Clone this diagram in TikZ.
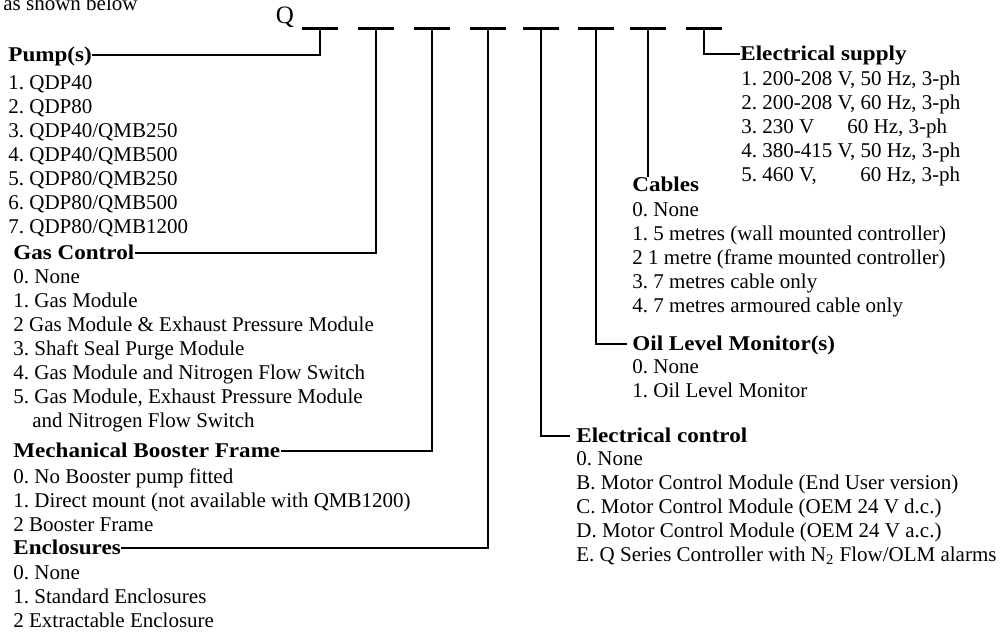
\documentclass[tikz,border=0pt]{standalone}
\usepackage{fontspec}
\setmainfont{Liberation Serif}[BoldFeatures={FakeStretch=1.1}]
\usepackage{tikz}
\frenchspacing

\begin{document}
\begin{tikzpicture}[x=0.5pt, y=-0.5pt,
  every node/.style={inner sep=0pt, font=\fontsize{10.5}{12}\selectfont},
  head/.style={anchor=base west, font=\fontsize{10.5}{12}\selectfont\bfseries, text height=7pt, text depth=1pt},
  list/.style={anchor=north west, align=left},
  bar/.style={line width=1.5pt},
  link/.style={line width=1.3pt}]

\useasboundingbox (0, 0) rectangle (1005, 634);

\node[anchor=base west] (intro) at (3, 10) {as shown below};
\node[font=\fontsize{12.5}{14}\selectfont] (q) at (285, 17) {Q};

\coordinate (t1) at (320, 28);
\coordinate (t2) at (376, 28);
\coordinate (t3) at (432, 28);
\coordinate (t4) at (488, 28);
\coordinate (t5) at (541, 28);
\coordinate (t6) at (596, 28);
\coordinate (t7) at (648, 28);
\coordinate (t8) at (704, 28);

\draw[bar] ([xshift=-9pt]t1) -- ([xshift=9pt]t1);
\draw[bar] ([xshift=-9pt]t2) -- ([xshift=9pt]t2);
\draw[bar] ([xshift=-9pt]t3) -- ([xshift=9pt]t3);
\draw[bar] ([xshift=-9pt]t4) -- ([xshift=9pt]t4);
\draw[bar] ([xshift=-9pt]t5) -- ([xshift=9pt]t5);
\draw[bar] ([xshift=-9pt]t6) -- ([xshift=9pt]t6);
\draw[bar] ([xshift=-9pt]t7) -- ([xshift=9pt]t7);
\draw[bar] ([xshift=-9pt]t8) -- ([xshift=9pt]t8);

\node[head] (pump) at (8, 61) {Pump(s)};
\node[list] (pumplist) at (8, 72) {\strut 1. QDP40\\ 2. QDP80\\ 3. QDP40/QMB250\\ 4. QDP40/QMB500\\ 5. QDP80/QMB250\\ 6. QDP80/QMB500\\ 7. QDP80/QMB1200};

\node[head] (gas) at (13, 259) {Gas Control};
\node[list] (gaslist) at (13, 266) {\strut 0. None\\ 1. Gas Module\\ 2 Gas Module \& Exhaust Pressure Module\\ 3. Shaft Seal Purge Module\\ 4. Gas Module and Nitrogen Flow Switch\\ 5. Gas Module, Exhaust Pressure Module\\ \hspace*{9.5pt}and Nitrogen Flow Switch};

\node[head] (booster) at (13, 457) {Mechanical Booster Frame};
\node[list] (boosterlist) at (13, 466) {\strut 0. No Booster pump fitted\\ 1. Direct mount (not available with QMB1200)\\ 2 Booster Frame};

\node[head] (encl) at (13, 554) {Enclosures};
\node[list] (encllist) at (13, 562) {\strut 0. None\\ 1. Standard Enclosures\\ 2 Extractable Enclosure};

\node[head] (supply) at (740, 60) {Electrical supply};
\node[list] (supplylist) at (741, 68) {\strut 1. 200-208 V, 50 Hz, 3-ph\\ 2. 200-208 V, 60 Hz, 3-ph\\ \makebox[53pt][l]{3. 230 V}60 Hz, 3-ph\\ 4. 380-415 V, 50 Hz, 3-ph\\ \makebox[59.5pt][l]{5. 460 V,}60 Hz, 3-ph};

\node[head] (cables) at (632, 191) {Cables};
\node[list] (cablelist) at (632, 199) {\strut 0. None\\ 1. 5 metres (wall mounted controller)\\ 2 1 metre (frame mounted controller)\\ 3. 7 metres cable only\\ 4. 7 metres armoured cable only};

\node[head] (oil) at (632, 350) {Oil Level Monitor(s)};
\node[list] (oillist) at (632, 356) {\strut 0. None\\ 1. Oil Level Monitor};

\node[head] (control) at (576, 442) {Electrical control};
\node[list] (controllist) at (576, 448) {\strut 0. None\\ B. Motor Control Module (End User version)\\ C. Motor Control Module (OEM 24 V d.c.)\\ D. Motor Control Module (OEM 24 V a.c.)\\ E. Q Series Controller with N\textsubscript{2} Flow/OLM alarms};

\draw[link] (t1) |- (pump.east);
\draw[link] (t2) |- (gas.east);
\draw[link] (t3) |- (booster.east);
\draw[link] (t4) |- (encl.east);
\draw[link, shorten >=3pt] (t5) |- (control.west);
\draw[link, shorten >=2.5pt] (t6) |- (oil.west);
\draw[link] (t7) -- (t7 |- cables.north);
\draw[link] (t8) |- (supply.west);

\end{tikzpicture}
\end{document}
